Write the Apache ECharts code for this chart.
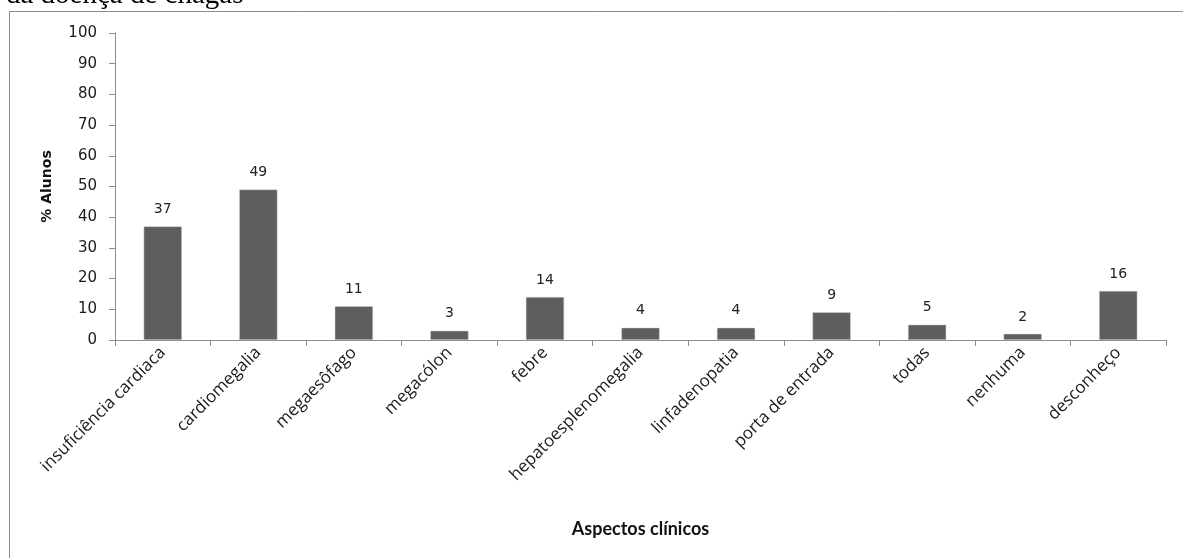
<!DOCTYPE html>
<html>
<head>
<meta charset="utf-8">
<script src="https://cdn.jsdelivr.net/npm/echarts@6/dist/echarts.min.js"></script>
<style>
  html, body { margin: 0; padding: 0; background: #fff; }
  #chart { width: 1183px; height: 558px; }
</style>
</head>
<body>
<div id="chart"></div>
<script>
// Aspectos clínicos da doença de Chagas citados pelos alunos (%)
const categories = [
  'insuficiência cardiaca', 'cardiomegalia', 'megaesôfago', 'megacólon', 'febre',
  'hepatoesplenomegalia', 'linfadenopatia', 'porta de entrada', 'todas', 'nenhuma', 'desconheço'
];
const percentAlunos = [37, 49, 11, 3, 14, 4, 4, 9, 5, 2, 16];
const yTicks = { min: 0, max: 100, interval: 10 };

const chart = echarts.init(document.getElementById('chart'));
const axisGray = '#8c8c8c';

chart.setOption({
  animation: false,
  backgroundColor: '#ffffff',
  graphic: [
    {
      type: 'text',
      left: 6,
      top: -19,
      style: {
        text: 'da doença de chagas',
        font: '29px "Liberation Serif", serif',
        fill: '#000000'
      },
      z: 10
    },
    {
      type: 'rect',
      shape: { x: 9.5, y: 11.5, width: 1200, height: 600 },
      style: { fill: 'none', stroke: '#8a8a8a', lineWidth: 1 },
      silent: true,
      z: 0
    }
  ],
  grid: { left: 115, right: 17, top: 33, bottom: 218 },
  xAxis: {
    type: 'category',
    data: categories,
    name: 'Aspectos clínicos',
    nameLocation: 'middle',
    nameGap: 180,
    nameTextStyle: { fontFamily: 'Lato', fontWeight: 'bold', fontSize: 18, color: '#111' },
    axisLine: { lineStyle: { color: axisGray, width: 1 } },
    axisTick: { show: true, length: 6, alignWithLabel: false, lineStyle: { color: axisGray } },
    axisLabel: {
      interval: 0,
      rotate: 45,
      margin: 10,
      fontFamily: 'Open Sans',
      fontSize: 17,
      color: '#1a1a1a'
    }
  },
  yAxis: {
    type: 'value',
    min: yTicks.min,
    max: yTicks.max,
    interval: yTicks.interval,
    name: '% Alunos',
    nameLocation: 'middle',
    nameGap: 61,
    nameTextStyle: { fontFamily: 'DejaVu Sans', fontWeight: 'bold', fontSize: 14, color: '#111' },
    axisLine: { show: true, lineStyle: { color: axisGray, width: 1 } },
    axisTick: { show: true, length: 6, lineStyle: { color: axisGray } },
    splitLine: { show: false },
    axisLabel: { margin: 18, fontFamily: 'DejaVu Sans', fontSize: 15, color: '#1a1a1a' }
  },
  series: [{
    type: 'bar',
    data: percentAlunos,
    barWidth: '40%',
    itemStyle: { color: '#5e5e5e', borderColor: '#d0d0d0', borderWidth: 0.5 },
    label: {
      show: true,
      position: 'top',
      distance: 10,
      fontFamily: 'DejaVu Sans',
      fontSize: 14,
      color: '#222'
    }
  }]
});
</script>
</body>
</html>
